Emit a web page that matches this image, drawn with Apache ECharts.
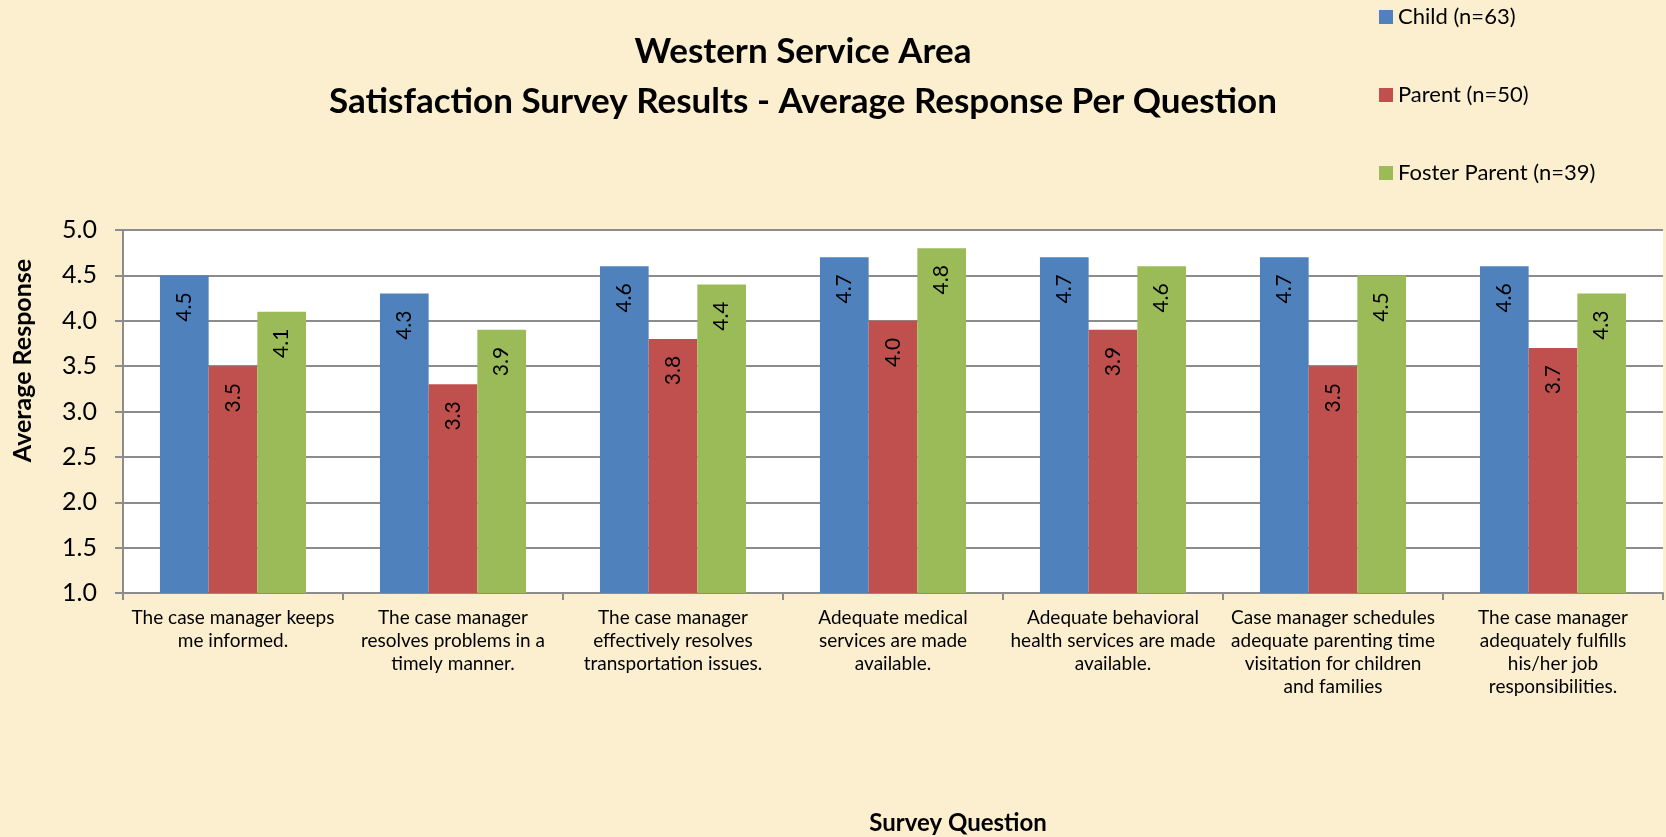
<!DOCTYPE html>
<html>
	<head>
		<meta charset="utf-8">
		<script src="https://cdn.jsdelivr.net/npm/echarts@6/dist/echarts.min.js"></script>
		<title>Western Service Area</title>
		<style>
			html, body { margin: 0; padding: 0; }
			body { background: #fcefd0; }
			#chart { width: 1666px; height: 837px; }
		</style>
	</head>
	<body>
		<div id="chart"></div>
	<script>
		// survey questions, already wrapped like the original
		const questions = [
			'The case manager keeps\nme informed.',
			'The case manager\nresolves problems in a\ntimely manner.',
			'The case manager\neffectively resolves\ntransportation issues.',
			'Adequate medical\nservices are made\navailable.',
			'Adequate behavioral\nhealth services are made\navailable.',
			'Case manager schedules\nadequate parenting time\nvisitation for children\nand families',
			'The case manager\nadequately fulfills\nhis/her job\nresponsibilities.'
		];
		const seriesNames = ['Child (n=63)', 'Parent (n=50)', 'Foster Parent (n=39)'];
		const childVals = [4.5, 4.3, 4.6, 4.7, 4.7, 4.7, 4.6];
		const parentVals = [3.5, 3.3, 3.8, 4.0, 3.9, 3.5, 3.7];
		const fosterVals = [4.1, 3.9, 4.4, 4.8, 4.6, 4.5, 4.3];
		const colors = ['#4f81bd', '#c0504d', '#9bbb59'];

		const font = 'Lato, "Open Sans", sans-serif';

		const chart = echarts.init(document.getElementById('chart'));

		function barSeries(name, vals) {
			return {
				name: name,
				type: 'bar',
				data: vals,
				barGap: '0%',
				barCategoryGap: '33.6%',
				label: {
					show: true,
					position: 'insideTop',
					rotate: 90,
					align: 'right',
					verticalAlign: 'middle',
					distance: 17,
					color: '#000',
					fontFamily: font,
					fontSize: 21,
					formatter: p => p.value.toFixed(1)
				}
			};
		}

		chart.setOption({
			color: colors,
			title: {
				text: 'Western Service Area\nSatisfaction Survey Results - Average Response Per Question',
				left: 798,
				top: 22,
				textAlign: 'center',
				textStyle: {
					fontFamily: font,
					fontWeight: 'bold',
					fontSize: 35,
					lineHeight: 50,
					color: '#000'
				}
			},
			legend: {
				orient: 'vertical',
				left: 1379,
				top: 6,
				padding: 0,
				itemWidth: 14,
				itemHeight: 14,
				itemGap: 56,
				icon: 'rect',
				textStyle: { fontFamily: font, fontSize: 22, color: '#000' },
				data: seriesNames
			},
			grid: {
				left: 123,
				right: 3,
				top: 230,
				bottom: 244,
				show: true,
				backgroundColor: '#ffffff',
				borderWidth: 0
			},
			xAxis: {
				type: 'category',
				data: questions,
				name: 'Survey Question',
				nameLocation: 'middle',
				nameGap: 218,
				nameTextStyle: {
					fontFamily: font, fontSize: 24, fontWeight: 'bold', color: '#000',
					padding: [0, 0, 0, 130]
				},
				axisLine: { lineStyle: { color: '#8c8c8c', width: 2 } },
				axisTick: { show: true, length: 7, lineStyle: { color: '#8c8c8c', width: 2 } },
				axisLabel: {
					interval: 0,
					margin: 13,
					fontFamily: font,
					fontSize: 19,
					lineHeight: 23,
					color: '#000',
					align: 'center'
				}
			},
			yAxis: {
				type: 'value',
				min: 1,
				max: 5,
				interval: 0.5,
				name: 'Average Response',
				nameLocation: 'middle',
				nameGap: 88,
				nameTextStyle: {
					fontFamily: font, fontSize: 25, fontWeight: 'bold', color: '#000',
					padding: [0, 0, 0, 102]
				},
				axisLine: { show: true, lineStyle: { color: '#8c8c8c', width: 2 } },
				axisTick: { show: true, length: 8, lineStyle: { color: '#8c8c8c', width: 2 } },
				splitLine: { lineStyle: { color: '#8c8c8c', width: 2 } },
				axisLabel: {
					margin: 26,
					fontFamily: font,
					fontSize: 25,
					color: '#000',
					formatter: v => v.toFixed(1)
				}
			},
			series: [
				barSeries(seriesNames[0], childVals),
				barSeries(seriesNames[1], parentVals),
				barSeries(seriesNames[2], fosterVals)
			]
		});
	</script>
	</body>
</html>
